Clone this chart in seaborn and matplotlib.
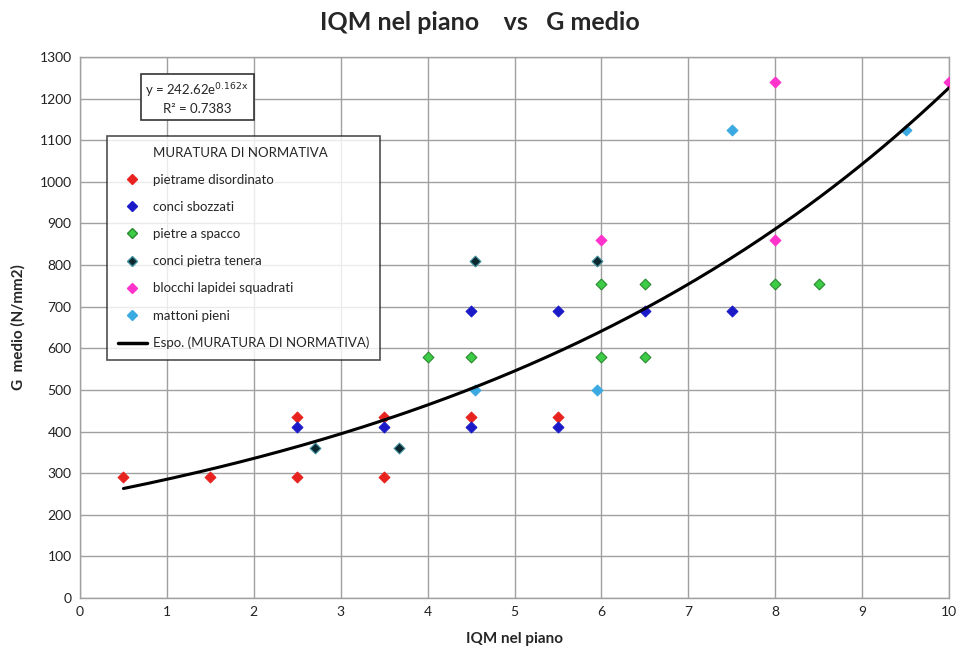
import numpy as np
import pandas as pd
import matplotlib
matplotlib.use("Agg")
import matplotlib.pyplot as plt
from matplotlib.lines import Line2D
import seaborn as sns

# ---- data ----
categories = ["pietrame disordinato", "conci sbozzati", "pietre a spacco",
              "conci pietra tenera", "blocchi lapidei squadrati", "mattoni pieni"]
pietrame_x = [0.5, 1.5, 2.5, 2.5, 3.5, 3.5, 4.5, 5.5]
pietrame_y = [290, 290, 435, 290, 435, 290, 435, 435]
sbozzati_x = [2.5, 3.5, 4.5, 5.5, 4.5, 5.5, 6.5, 7.5]
sbozzati_y = [410, 410, 410, 410, 690, 690, 690, 690]
spacco_x = [4.0, 4.5, 6.0, 6.5, 6.0, 6.5, 8.0, 8.5]
spacco_y = [580, 580, 580, 580, 755, 755, 755, 755]
tenera_x = [2.7, 3.67, 4.55, 5.95]
tenera_y = [360, 360, 810, 810]
blocchi_x = [6.0, 8.0, 8.0, 10.0]
blocchi_y = [860, 860, 1240, 1240]
mattoni_x = [4.55, 5.95, 7.5, 9.5]
mattoni_y = [500, 500, 1125, 1125]

fit_a = 242.62
fit_b = 0.162
fit_range = (0.5, 10.0)
fit_label = "Espo. (MURATURA DI NORMATIVA)"
series_title = "MURATURA DI NORMATIVA"

colors = ["#e8231f", "#1a1ac8", "#3dcc45", "#0b2730", "#ff33cc", "#3ba9e2"]
edges = ["#e8231f", "#1a1ac8", "#2a8a30", "#3f8f9a", "#ff33cc", "#3ba9e2"]

xs = [pietrame_x, sbozzati_x, spacco_x, tenera_x, blocchi_x, mattoni_x]
ys = [pietrame_y, sbozzati_y, spacco_y, tenera_y, blocchi_y, mattoni_y]
df = pd.concat([pd.DataFrame({"x": x, "y": y, "cat": c}) for x, y, c in zip(xs, ys, categories)],
               ignore_index=True)

# ---- plot ----
sns.set_style("white")
plt.rcParams["font.family"] = ["Lato", "DejaVu Sans"]

fig = plt.figure(figsize=(9.6, 6.53), dpi=100)
ax = fig.add_axes([80/960, 1-598/653, (949-80)/960, (598-57)/653])

for c, col, ec in zip(categories, colors, edges):
    sub = df[df["cat"] == c]
    sns.scatterplot(data=sub, x="x", y="y", ax=ax, marker="D", s=30,
                    color=col, edgecolor=ec, linewidth=0.8, legend=False, zorder=3)

fx = np.linspace(fit_range[0], fit_range[1], 200)
fdf = pd.DataFrame({"x": fx, "y": fit_a * np.exp(fit_b * fx)})
sns.lineplot(data=fdf, x="x", y="y", ax=ax, color="black", linewidth=2.2, zorder=4)

ax.set_xlim(0, 10)
ax.set_ylim(0, 1300)
ax.set_xticks(np.arange(0, 11, 1))
ax.set_yticks(np.arange(0, 1301, 100))
ax.grid(True, color="#a0a0a0", linewidth=1.0)
ax.set_axisbelow(True)
for s in ax.spines.values():
    s.set_color("#a0a0a0")
    s.set_linewidth(1.0)
ax.tick_params(axis="both", length=0, labelsize=10, pad=6, colors="#222222")

ax.set_xlabel("IQM nel piano", fontsize=11, fontweight="bold", labelpad=10)
ax.set_ylabel("G  medio (N/mm2)", fontsize=11, fontweight="bold", labelpad=10)
fig.text(0.5, 1-22/653, "IQM nel piano    vs   G medio", ha="center", va="center",
         fontsize=18, fontweight="bold")

# equation box
ax.text(1.35, 1200, "y = 242.62e$^{\\mathrm{0.162x}}$\nR² = 0.7383", fontsize=9.5, ha="center", va="center",
        linespacing=1.3, zorder=6,
        bbox=dict(boxstyle="square,pad=0.35", facecolor="white", edgecolor="#333333", linewidth=1.2))

# legend
handles = [Line2D([], [], linestyle="none", marker=None)]
labels = [series_title]
for c, col, ec in zip(categories, colors, edges):
    handles.append(Line2D([], [], linestyle="none", marker="D", markersize=5,
                          markerfacecolor=col, markeredgecolor=ec))
    labels.append(c)
handles.append(Line2D([], [], color="black", linewidth=2.5))
labels.append(fit_label)
leg = ax.legend(handles, labels, loc="upper left", bbox_to_anchor=(27/869, 1-79/541),
                frameon=True, fancybox=False, edgecolor="#222222", fontsize=9.5,
                labelspacing=1.15, handlelength=2.2, handletextpad=0.5, borderpad=0.8,
                borderaxespad=0)
leg.get_frame().set_linewidth(1.2)
leg.set_zorder(6)

fig.savefig("out.png", dpi=100)
